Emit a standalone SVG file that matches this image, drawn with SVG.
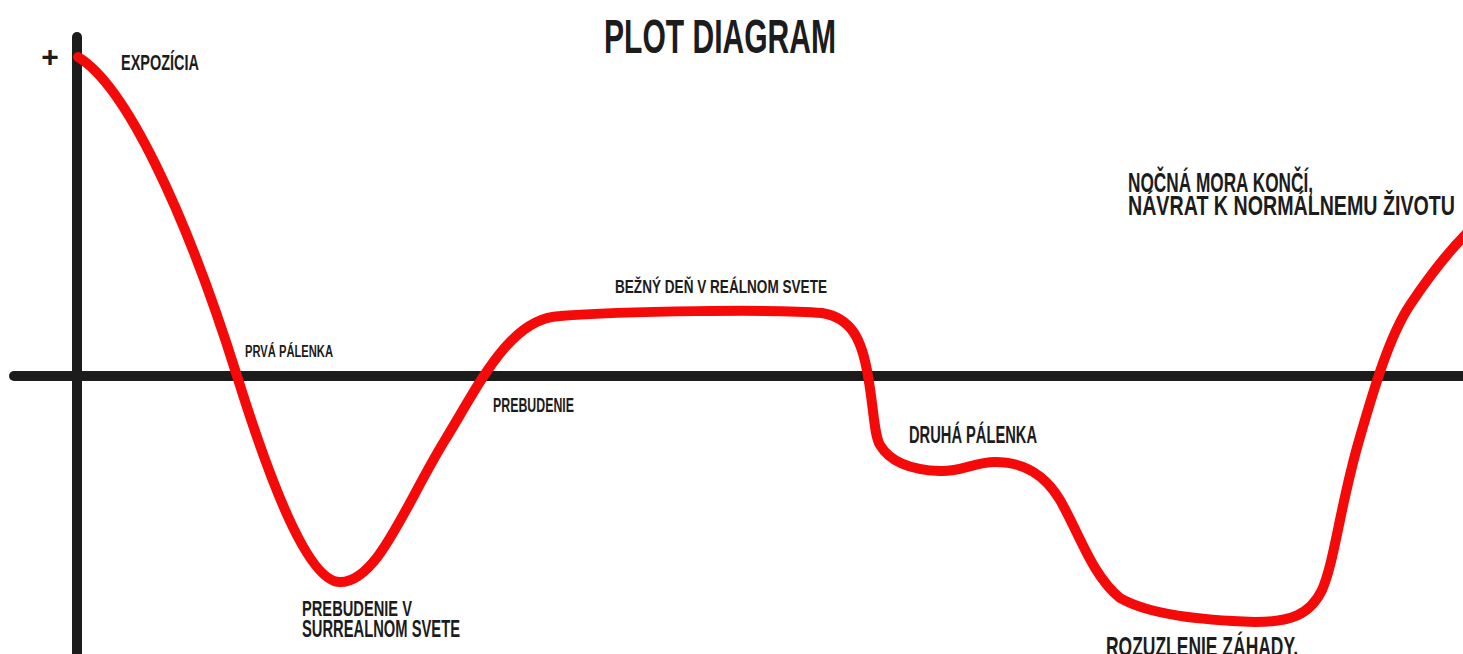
<svg xmlns="http://www.w3.org/2000/svg" width="1463" height="654" viewBox="0 0 1463 654">
<style>
.lbl{font-family:"Liberation Sans",Arial,sans-serif;font-weight:bold;fill:#1c1c1c}
.axis{stroke:#1c1c1c;stroke-width:10;stroke-linecap:round;fill:none}
.plot{stroke:#f50a0a;stroke-width:10;fill:none;stroke-linecap:round;stroke-linejoin:round}
</style>
<rect width="1463" height="654" fill="#fff"/>
<g id="axes">
<line class="axis" x1="77" y1="37" x2="77" y2="660"/>
<line class="axis" x1="14" y1="376" x2="1470" y2="376"/>
</g>
<g id="connectors">
<path class="plot" d="M78,57 C125,85 185,210 237,376 C263,459 305,582 340,582 C378,582 405,505 445,440 C480,383 510,318 560,316 C620,311 780,309 822,313 C852,318 862,340 868,376 C874,410 874,435 880,445 C890,462 910,470 940,471 C960,472 975,462 995,462 C1025,462 1045,475 1060,500 C1080,535 1092,575 1120,598 C1150,615 1200,620 1255,622 C1290,622 1310,615 1322,590 C1335,560 1340,505 1360,437 C1375,385 1390,335 1410,305 C1430,275 1450,250 1468,232"/>
</g>
<g id="title"><text class="lbl" x="604" y="53" font-size="49" textLength="232" lengthAdjust="spacingAndGlyphs">PLOT DIAGRAM</text></g>
<g id="plus"><text class="lbl" x="50" y="67" font-size="30" text-anchor="middle">+</text></g>
<g id="expozicia"><text class="lbl" x="121" y="70" font-size="22" textLength="78" lengthAdjust="spacingAndGlyphs">EXPOZÍCIA</text></g>
<g id="prva-palenka"><text class="lbl" x="245" y="357" font-size="16" textLength="88" lengthAdjust="spacingAndGlyphs">PRVÁ PÁLENKA</text></g>
<g id="prebudenie"><text class="lbl" x="493" y="412" font-size="20" textLength="81" lengthAdjust="spacingAndGlyphs">PREBUDENIE</text></g>
<g id="bezny-den"><text class="lbl" x="615" y="293" font-size="18" textLength="212" lengthAdjust="spacingAndGlyphs">BEŽNÝ DEŇ V REÁLNOM SVETE</text></g>
<g id="druha-palenka"><text class="lbl" x="909" y="443" font-size="24" textLength="128" lengthAdjust="spacingAndGlyphs">DRUHÁ PÁLENKA</text></g>
<g id="prebudenie-surreal">
<text class="lbl" x="302" y="616" font-size="22" textLength="110" lengthAdjust="spacingAndGlyphs">PREBUDENIE V</text>
<text class="lbl" x="302" y="637" font-size="23" textLength="158" lengthAdjust="spacingAndGlyphs">SURREALNOM SVETE</text>
</g>
<g id="nocna-mora">
<text class="lbl" x="1128" y="192" font-size="28" textLength="185" lengthAdjust="spacingAndGlyphs">NOČNÁ MORA KONČÍ,</text>
<text class="lbl" x="1128" y="215" font-size="28" textLength="327" lengthAdjust="spacingAndGlyphs">NÁVRAT K NORMÁLNEMU ŽIVOTU</text>
</g>
<g id="rozuzlenie"><text class="lbl" x="1106" y="656" font-size="28" textLength="192" lengthAdjust="spacingAndGlyphs">ROZUZLENIE ZÁHADY,</text></g>
</svg>
